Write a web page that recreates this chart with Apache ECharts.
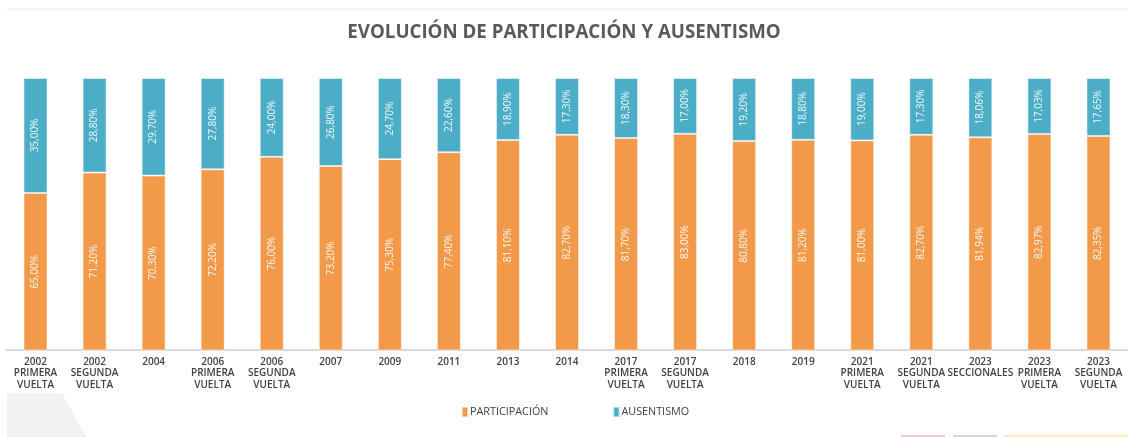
<!DOCTYPE html>
<html>
<head>
<meta charset="utf-8">
<script src="https://cdn.jsdelivr.net/npm/echarts@6/dist/echarts.min.js"></script>
<style>
html,body{margin:0;padding:0;background:#fff;}
#chart{width:1128px;height:437px;}
</style>
</head>
<body>
<div id="chart"></div>
<script>
const categories = [
  "2002\nPRIMERA\nVUELTA", "2002\nSEGUNDA\nVUELTA", "2004", "2006\nPRIMERA\nVUELTA",
  "2006\nSEGUNDA\nVUELTA", "2007", "2009", "2011", "2013", "2014",
  "2017\nPRIMERA\nVUELTA", "2017\nSEGUNDA\nVUELTA", "2018", "2019",
  "2021\nPRIMERA\nVUELTA", "2021\nSEGUNDA\nVUELTA", "2023\nSECCIONALES",
  "2023\nPRIMERA\nVUELTA", "2023\nSEGUNDA\nVUELTA"
];
const participacion = [65.00, 71.20, 70.30, 72.20, 76.00, 73.20, 75.30, 77.40, 81.10, 82.70, 81.70, 83.00, 80.80, 81.20, 81.00, 82.70, 81.94, 82.97, 82.35];
const ausentismo = [35.00, 28.80, 29.70, 27.80, 24.00, 26.80, 24.70, 22.60, 18.90, 17.30, 18.30, 17.00, 19.20, 18.80, 19.00, 17.30, 18.06, 17.03, 17.65];
const titleText = "EVOLUCIÓN DE PARTICIPACIÓN Y AUSENTISMO";
const seriesNames = ["PARTICIPACIÓN", "AUSENTISMO"];

const fmt = v => v.toFixed(2).replace('.', ',') + '%';

const chart = echarts.init(document.getElementById('chart'));
const labelCfg = {
  show: true,
  position: 'inside',
  rotate: 90,
  color: 'rgba(255,255,255,0.92)',
  fontFamily: 'Open Sans',
  fontSize: 10,
  formatter: p => fmt(p.value)
};
chart.setOption({
  animation: false,
  title: {
    text: titleText,
    left: 'center',
    top: 18,
    textStyle: {fontFamily: 'Open Sans', fontWeight: 'bold', fontSize: 18.7, color: '#595959'}
  },
  legend: {
    data: seriesNames,
    left: 456,
    top: 401,
    itemWidth: 6,
    itemHeight: 10,
    itemGap: 64,
    icon: 'rect',
    textStyle: {fontFamily: 'Open Sans', fontSize: 10.8, color: '#404040', padding: [0,0,0,-3]}
  },
  grid: {left: 6, width: 1134, top: 78, bottom: 87, containLabel: false},
  xAxis: {
    type: 'category',
    data: categories,
    axisLine: {lineStyle: {color: '#d9d9d9', width: 2}},
    axisTick: {show: false},
    axisLabel: {
      interval: 0,
      margin: 6,
      fontFamily: 'Open Sans',
      fontWeight: 600,
      fontSize: 10,
      lineHeight: 11.5,
      color: '#404040'
    }
  },
  yAxis: {type: 'value', min: 17.2, max: 100, show: false, splitLine: {show: false}},
  graphic: [
    {type: 'line', shape: {x1: 7, y1: 9, x2: 1128, y2: 9}, style: {stroke: '#cfe6ee', lineWidth: 1, lineDash: [2, 1]}},
    {type: 'polygon', shape: {points: [[7, 393], [62, 393], [86, 437], [7, 437]]}, style: {fill: '#f2f2f2'}},
    {type: 'rect', shape: {x: 901, y: 435, width: 44, height: 2}, style: {fill: '#f6c9cf'}},
    {type: 'rect', shape: {x: 953, y: 435, width: 44, height: 2}, style: {fill: '#cdd9e3'}},
    {type: 'rect', shape: {x: 1004, y: 435, width: 124, height: 2}, style: {fill: '#fbefc0'}}
  ],
  series: [
    {
      name: seriesNames[0], type: 'bar', stack: 'total', data: participacion,
      barWidth: 24,
      itemStyle: {color: '#f2994a', borderColor: 'rgba(255,255,255,0.5)', borderWidth: 1},
      label: labelCfg
    },
    {
      name: seriesNames[1], type: 'bar', stack: 'total', data: ausentismo,
      barWidth: 24,
      itemStyle: {color: '#4badc6', borderColor: 'rgba(255,255,255,0.5)', borderWidth: 1},
      label: labelCfg
    }
  ]
});
</script>
</body>
</html>
